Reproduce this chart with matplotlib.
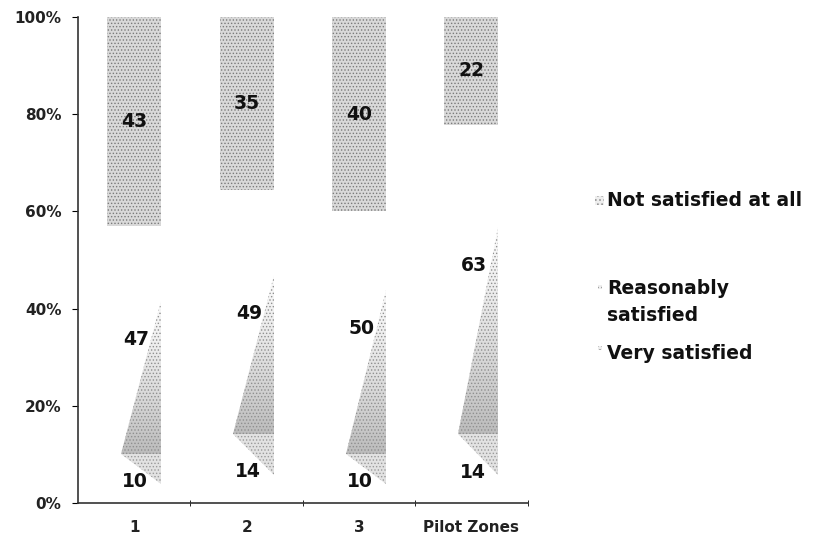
import matplotlib.pyplot as plt
import numpy as np
from matplotlib.patches import Polygon, Rectangle

plt.rcParams['font.family'] = ['DejaVu Sans']
plt.rcParams['hatch.linewidth'] = 0.6

# survey shares per zone (percent)
zones = ['1', '2', '3', 'Pilot Zones']
very = [10, 14, 10, 14]
reasonably = [47, 49, 50, 63]
not_at_all = [43, 35, 40, 22]

bar_w = 0.48
wedge_frac = 0.75   # visible width of the lower wedge
peak_frac = 0.73    # visible height of the wedge tip
tip_frac = 0.4

fig = plt.figure(figsize=(8.13, 5.42), dpi=100)
ax = fig.add_axes([0.096, 0.072, 0.553, 0.897])

# darker at the bottom, fading upwards
grad = np.linspace(0.38, 0.04, 256).reshape(-1, 1)

for i in range(len(zones)):
    total = very[i] + reasonably[i] + not_at_all[i]
    v = 100 * very[i] / total
    base = 100 * (very[i] + reasonably[i]) / total
    top = 100 - base

    # top block
    ax.bar(i, top, bottom=base, width=bar_w, color='#d9d9d9',
           edgecolor='#7a7a7a', hatch='.....', linewidth=0)
    ax.text(i, base + top / 2, str(not_at_all[i]), ha='center',
            va='center', fontsize=13.5, fontweight='bold', color='#111111')

    xr = i + bar_w / 2
    xl = xr - wedge_frac * bar_w
    peak = peak_frac * base
    tip = tip_frac * v

    reas = Polygon([(xl, v), (xr, v), (xr, peak)], closed=True,
                   facecolor='none', edgecolor='#8f8f8f', hatch='.....',
                   linewidth=0, zorder=2)
    ax.add_patch(reas)
    img = ax.imshow(grad, cmap='Greys', vmin=0, vmax=1,
                    extent=(xl, xr, v, peak), aspect='auto',
                    origin='lower', zorder=1)
    img.set_clip_path(reas)

    vs = Polygon([(xl, v), (xr, v), (xr, tip)], closed=True,
                 facecolor='#e2e2e2', edgecolor='#9a9a9a', hatch='.....',
                 linewidth=0)
    ax.add_patch(vs)

    ax.text(i + 0.02, peak - 8, str(reasonably[i]), ha='center', va='center',
            fontsize=13.5, fontweight='bold', color='#111111')
    ax.text(i + 0.01, v * 0.45, str(very[i]), ha='center', va='center',
            fontsize=13.5, fontweight='bold', color='#111111')

ax.set_xlim(-0.5, 3.5)
ax.set_ylim(0, 100)
ax.set_yticks(range(0, 101, 20))
ax.set_yticklabels([f'{t}%' for t in range(0, 101, 20)])
ax.set_xticks(range(len(zones)))
ax.set_xticklabels(zones)
ax.set_xticks([0.5, 1.5, 2.5, 3.5], minor=True)
ax.tick_params(axis='x', which='major', length=0, pad=12, labelsize=11)
ax.tick_params(axis='x', which='minor', length=4, direction='inout')
ax.tick_params(axis='y', length=4, pad=8, labelsize=11)
for lab in ax.get_xticklabels() + ax.get_yticklabels():
    lab.set_fontweight('bold')
    lab.set_color('#222222')

for s in ['top', 'right']:
    ax.spines[s].set_visible(False)
for s in ['left', 'bottom']:
    ax.spines[s].set_color('#333333')
    ax.spines[s].set_linewidth(1.2)

# legend entries
leg_items = [('Not satisfied at all', 0.630, 9, 0.630),
             ('Reasonably\nsatisfied', 0.443, 4, 0.470),
             ('Very satisfied', 0.348, 4, 0.358)]
for label, yc, sz, ym in leg_items:
    fig.text(0.747, yc, label, ha='left', va='center', fontsize=13.5,
             fontweight='bold', color='#111111', linespacing=1.5)
    w = sz / 813
    h = sz / 542
    fig.add_artist(Rectangle((0.738 - w / 2, ym - h / 2), w, h,
                             transform=fig.transFigure, facecolor='#eeeeee',
                             edgecolor='#888888', hatch='....', linewidth=0))

fig.savefig('out.png', dpi=100)
